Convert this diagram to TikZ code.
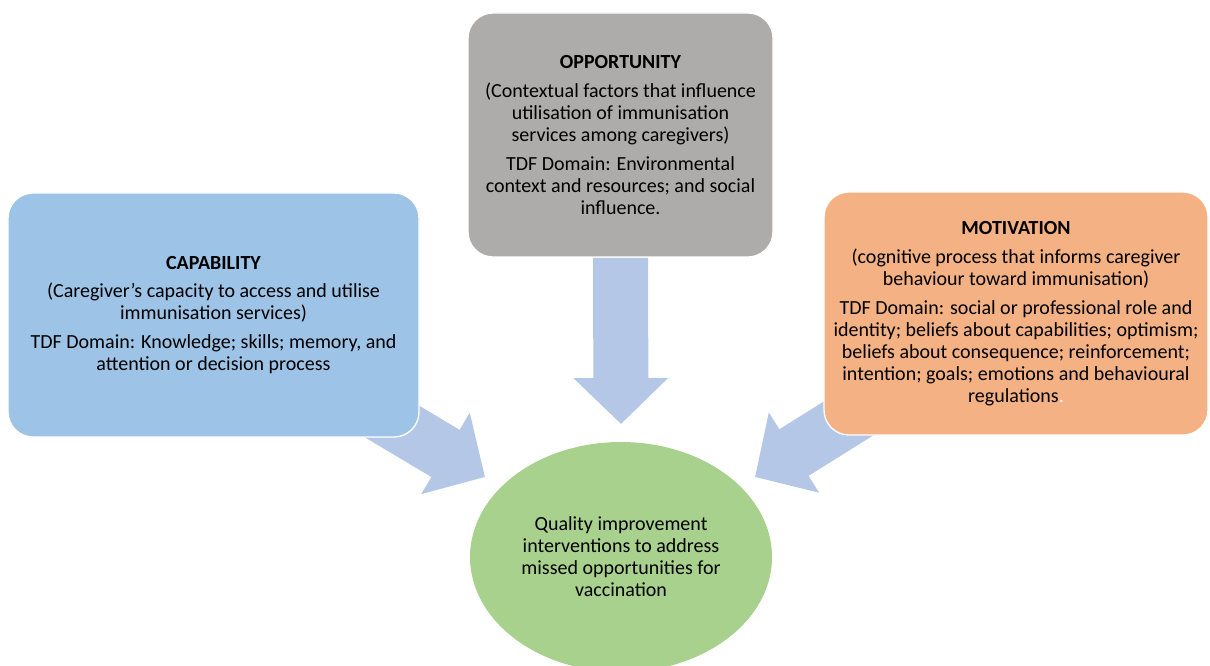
\documentclass[tikz,border=0pt]{standalone}
\usepackage{fontspec}
\setmainfont{Carlito}
\usetikzlibrary{arrows.meta,shapes.geometric,backgrounds}
\definecolor{capblue}{HTML}{9DC3E6}
\definecolor{oppgrey}{HTML}{AEABAB}
\definecolor{motorange}{HTML}{F4B183}
\definecolor{goalgreen}{HTML}{A9D18E}
\definecolor{arrowblue}{HTML}{B4C7E7}

\begin{document}
\begin{tikzpicture}
  [x=0.75pt, y=0.75pt,
   every node/.style={align=center, text=black, font=\fontsize{15}{16.5}\selectfont},
   box/.style={draw=white, line width=1pt, rounded corners=18.75pt, inner sep=0pt},
%   box/.style={draw, rounded corners},
   goal/.style={ellipse, fill=goalgreen, inner sep=0pt,
     minimum width=226.5pt, minimum height=172.5pt},
   bigarrow/.style={draw=arrowblue, line width=41.25pt,
     -{Triangle[width=69pt, length=34.5pt, fill=arrowblue]}} ]
 \useasboundingbox (0,0) rectangle (1210,665);

 \node[box, fill=capblue, minimum width=308.25pt, minimum height=183pt] (cap) at (213.5,350)
   {\textbf{CAPABILITY}\\[5pt]
    (Caregiver’s capacity to access and utilise\\ immunisation services)\\[5pt]
    TDF Domain: Knowledge; skills; memory, and\\ attention or decision process};
 \node[box, fill=oppgrey, minimum width=228.75pt, minimum height=183pt] (opp) at (620.5,530)
   {\textbf{OPPORTUNITY}\\[5pt]
    (Contextual factors that influence\\ utilisation of immunisation\\ services among caregivers)\\[5pt]
    TDF Domain: Environmental\\ context and resources; and social\\ influence.};
 \node[box, fill=motorange, minimum width=288pt, minimum height=182.25pt] (mot) at (1016,351.5)
   {\textbf{MOTIVATION}\\[5pt]
    (cognitive process that informs caregiver\\ behaviour toward immunisation)\\[5pt]
    TDF Domain: social or professional role and\\ identity; beliefs about capabilities; optimism;\\
    beliefs about consequence; reinforcement;\\ intention; goals; emotions and behavioural\\
    regulations{\color{white}.}};
 \node[goal] (qi) at (621,108)
   {Quality improvement\\ interventions to address\\ missed opportunities for\\ vaccination};

 \coordinate (opptip) at (621,241);
 \coordinate (captip) at (485,188);
 \coordinate (mottip) at (755,188);

 \begin{scope}[on background layer]
  \draw[bigarrow] (opp.south) -- (opptip);
  \draw[bigarrow] (cap.center) -- (captip);
  \draw[bigarrow] (mot.center) -- (mottip);
 \end{scope}
\end{tikzpicture}
\end{document}
